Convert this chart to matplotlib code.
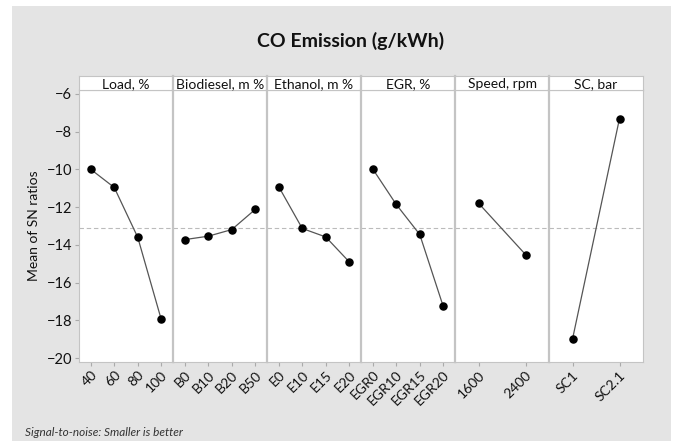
"""
Main effects plot for SN ratios - CO emission (g/kWh).
"""

import matplotlib.pyplot as plt
from matplotlib.patches import Rectangle

plt.rcParams["font.family"] = ["Lato", "DejaVu Sans"]

# factors and their levels
factor_names = ["Load, %", "Biodiesel, m %", "Ethanol, m %", "EGR, %", "Speed, rpm", "SC, bar"]
load_levels = ["40", "60", "80", "100"]
biodiesel_levels = ["B0", "B10", "B20", "B50"]
ethanol_levels = ["E0", "E10", "E15", "E20"]
egr_levels = ["EGR0", "EGR10", "EGR15", "EGR20"]
speed_levels = ["1600", "2400"]
sc_levels = ["SC1", "SC2.1"]

# mean of SN ratios per level
load_sn = [-10.0, -10.96, -13.6, -17.95]
biodiesel_sn = [-13.72, -13.54, -13.19, -12.12]
ethanol_sn = [-10.92, -13.13, -13.58, -14.9]
egr_sn = [-9.98, -11.86, -13.45, -17.26]
speed_sn = [-11.79, -14.51]
sc_sn = [-18.99, -7.31]

overall_mean = -13.13

W, H = 676, 441
fig = plt.figure(figsize=(W / 100, H / 100), dpi=100)
fig.patch.set_facecolor("white")

BG = "#e4e4e4"
EDGE = "#c4c4c4"
TXT = "#111111"
fig.patches.append(
    Rectangle((12 / W, 0), (671 - 12) / W, 1 - 6 / H, transform=fig.transFigure,
              facecolor=BG, edgecolor="none", zorder=-5)
)

fig.text(351 / W, 1 - 41 / H, "CO Emission (g/kWh)", ha="center", va="center",
         fontsize=14, fontweight="bold", color=TXT)

levels = [load_levels, biodiesel_levels, ethanol_levels, egr_levels, speed_levels, sc_levels]
values = [load_sn, biodiesel_sn, ethanol_sn, egr_sn, speed_sn, sc_sn]

left_px, right_px = 79, 643
top_px, bottom_px, header_top_px = 90, 362, 76
panel_w = (right_px - left_px) / len(factor_names)

for i, (name, labels, vals) in enumerate(zip(factor_names, levels, values)):
    x0 = (left_px + i * panel_w) / W
    ax = fig.add_axes([x0, 1 - bottom_px / H, panel_w / W, (bottom_px - top_px) / H])
    ax.set_facecolor("white")
    xs = list(range(1, len(labels) + 1))
    ax.plot(xs, vals, color="#555555", linewidth=0.9, zorder=2)
    ax.scatter(xs, vals, color="black", s=26, zorder=3)
    ax.axhline(overall_mean, color="#bbbbbb", linestyle=(0, (4, 2.5)), linewidth=0.8, zorder=1)
    ax.set_xlim(0.5, len(labels) + 0.5)
    ax.set_ylim(-20.2, -5.8)
    ax.set_xticks(xs)
    ax.set_xticklabels(labels, rotation=45, ha="right", rotation_mode="anchor",
                       fontsize=10, color=TXT)
    ax.set_yticks([-6, -8, -10, -12, -14, -16, -18, -20])
    ax.tick_params(axis="x", length=3, color="#aaaaaa", pad=2)
    ax.tick_params(axis="y", length=3, color="#aaaaaa", labelsize=10.5, labelcolor=TXT, pad=2)
    if i > 0:
        ax.tick_params(axis="y", left=False, labelleft=False)
    for side, sp in ax.spines.items():
        sp.set_color(EDGE)
        sp.set_linewidth(0.8)
    if i > 0:
        ax.spines["left"].set_linewidth(1.6)
    if i == 0:
        ax.set_ylabel("Mean of SN ratios", fontsize=10, color=TXT, labelpad=5)

    # header strip with factor name
    hx = fig.add_axes([x0, 1 - top_px / H, panel_w / W, (top_px - header_top_px) / H])
    hx.set_facecolor("white")
    hx.set_xticks([])
    hx.set_yticks([])
    for sp in hx.spines.values():
        sp.set_color(EDGE)
        sp.set_linewidth(0.8)
    if i > 0:
        hx.spines["left"].set_linewidth(1.6)
    hx.text(0.5, 0.45, name, ha="center", va="center", fontsize=10, color=TXT,
            transform=hx.transAxes)

fig.text(25 / W, 1 - 433 / H, "Signal-to-noise: Smaller is better", ha="left", va="center",
         fontsize=8.5, style="italic", color="#333333")

fig.savefig("out.png", dpi=100)
